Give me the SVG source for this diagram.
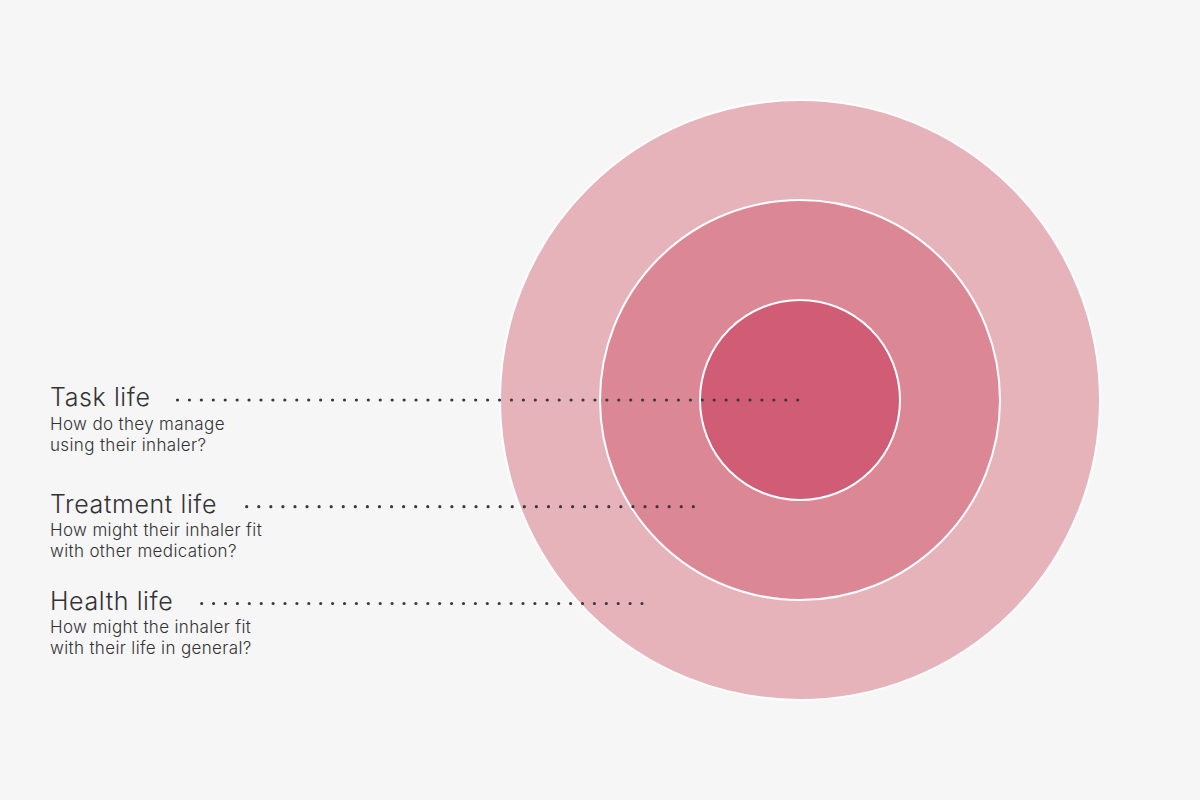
<svg xmlns="http://www.w3.org/2000/svg" width="1200" height="800" viewBox="0 0 1200 800">
<style>
.ring{stroke:#ffffff;stroke-width:2}
.title{font-family:Inter,"Liberation Sans",sans-serif;font-size:25px;font-weight:300;letter-spacing:0.6px;fill:#333333}
.sub{font-family:Inter,"Liberation Sans",sans-serif;font-size:17px;font-weight:300;letter-spacing:0.35px;fill:#333333}
.dots{stroke:#3a3a3a;stroke-width:3.2;stroke-linecap:round;fill:none}
</style>
<rect width="1200" height="800" fill="#f6f6f6"/>
<g id="health-ring"><circle class="ring" cx="800" cy="400" r="300" fill="#e6b3bb"/></g>
<g id="treatment-ring"><circle class="ring" cx="800" cy="400" r="200" fill="#dc8796"/></g>
<g id="task-ring"><circle class="ring" cx="800" cy="400" r="100" fill="#d05c75"/></g>
<g id="connectors">
<line class="dots" x1="177.5" y1="400" x2="799" y2="400" stroke-dasharray="0 11.927"/>
<line class="dots" x1="246.7" y1="506.7" x2="694.5" y2="506.7" stroke-dasharray="0 12.07"/>
<line class="dots" x1="201.7" y1="603.5" x2="643" y2="603.5" stroke-dasharray="0 11.9"/>
</g>
<g id="task-label">
<text class="title" x="50" y="406">Task life</text>
<text class="sub" x="50" y="430">How do they manage</text>
<text class="sub" x="50" y="451">using their inhaler?</text>
</g>
<g id="treatment-label">
<text class="title" x="50" y="513">Treatment life</text>
<text class="sub" x="50" y="536">How might their inhaler fit</text>
<text class="sub" x="50" y="557">with other medication?</text>
</g>
<g id="health-label">
<text class="title" x="50" y="610">Health life</text>
<text class="sub" x="50" y="633">How might the inhaler fit</text>
<text class="sub" x="50" y="654">with their life in general?</text>
</g>
</svg>
